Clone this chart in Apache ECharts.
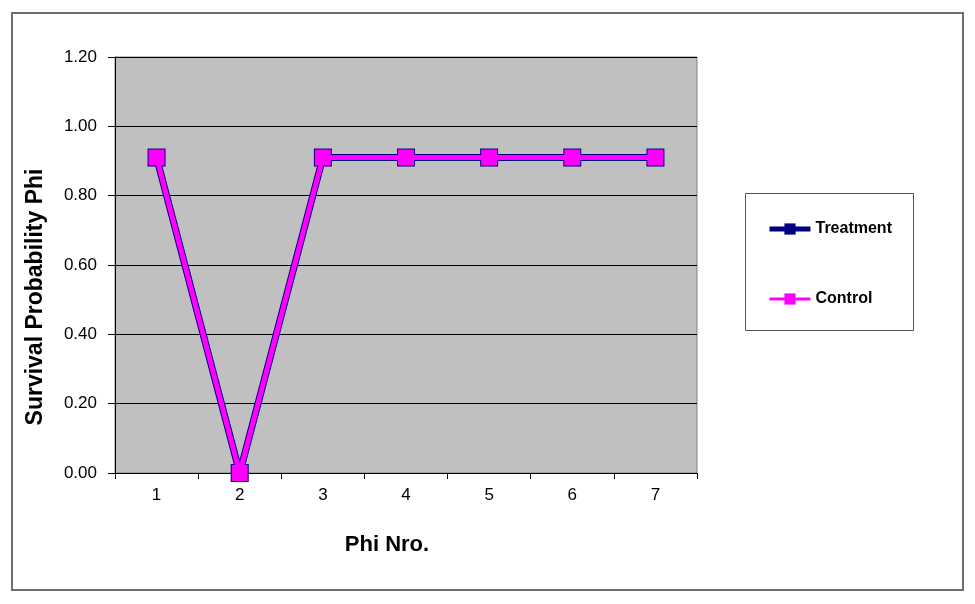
<!DOCTYPE html>
<html>
<head>
<meta charset="utf-8">
<script src="https://cdn.jsdelivr.net/npm/echarts@6/dist/echarts.min.js"></script>
<style>html,body{margin:0;padding:0;background:#fff}#c{width:975px;height:604px}</style>
</head>
<body>
<div id="c"></div>
<script>
var categories = ['1', '2', '3', '4', '5', '6', '7'];
var treatment = [0.91, 0.00, 0.91, 0.91, 0.91, 0.91, 0.91];
var control = [0.91, 0.00, 0.91, 0.91, 0.91, 0.91, 0.91];
var yTicks = { min: 0, max: 1.2, interval: 0.2 };

var chart = echarts.init(document.getElementById('c'));
var font = '"Liberation Sans", Arial, sans-serif';
chart.setOption({
  animation: false,
  textStyle: { fontFamily: font },
  graphic: [
    { type: 'rect', shape: { x: 12, y: 13, width: 951, height: 577 },
      style: { fill: 'none', stroke: '#6e6e6e', lineWidth: 2 }, z: -10 },
    { type: 'rect', shape: { x: 745.5, y: 193.5, width: 168, height: 137 },
      style: { fill: '#fff', stroke: '#555', lineWidth: 1 }, z: -5 }
  ],
  grid: { left: 115, top: 57, right: 278, bottom: 131, show: true,
          backgroundColor: '#C0C0C0', borderColor: '#808080', borderWidth: 1 },
  legend: {
    orient: 'vertical', left: 767, top: 221, padding: 0, itemGap: 54, itemWidth: 41, itemHeight: 14,
    textStyle: { fontFamily: font, fontWeight: 'bold', fontSize: 16, lineHeight: 14, color: '#000' },
    data: [
      { name: 'Treatment', itemStyle: { color: '#000080' }, lineStyle: { color: '#000080', width: 5 } },
      { name: 'Control', itemStyle: { color: '#FF00FF' }, lineStyle: { color: '#FF00FF', width: 3 } }
    ]
  },
  xAxis: {
    type: 'category', data: categories, boundaryGap: true,
    name: 'Phi Nro.', nameLocation: 'middle', nameGap: 61,
    nameTextStyle: { fontFamily: font, fontWeight: 'bold', fontSize: 22, color: '#000', padding: [0, 38, 0, 0] },
    axisLine: { lineStyle: { color: '#000', width: 1 } },
    axisTick: { show: true, length: 6, lineStyle: { color: '#000' } },
    axisLabel: { fontFamily: font, fontSize: 17, color: '#000', margin: 14 }
  },
  yAxis: {
    type: 'value', min: yTicks.min, max: yTicks.max, interval: yTicks.interval,
    name: 'Survival Probability Phi', nameLocation: 'middle', nameGap: 68,
    nameTextStyle: { fontFamily: font, fontWeight: 'bold', fontSize: 23, color: '#000', padding: [0, 64, 0, 0] },
    axisLine: { show: true, lineStyle: { color: '#000', width: 1 } },
    axisTick: { show: true, length: 7, lineStyle: { color: '#000' } },
    axisLabel: { fontFamily: font, fontSize: 17, color: '#000', margin: 18,
                 formatter: function (v) { return v.toFixed(2); } },
    splitLine: { show: true, lineStyle: { color: '#000', width: 1 } }
  },
  series: [
    { name: 'Treatment', type: 'line', data: treatment, symbol: 'rect', symbolSize: 18,
      lineStyle: { color: '#000080', width: 7 }, itemStyle: { color: '#000080' }, z: 2 },
    { name: 'Control', type: 'line', data: control, symbol: 'rect', symbolSize: 16,
      lineStyle: { color: '#FF00FF', width: 5 }, itemStyle: { color: '#FF00FF' }, z: 3 }
  ]
});
</script>
</body>
</html>
